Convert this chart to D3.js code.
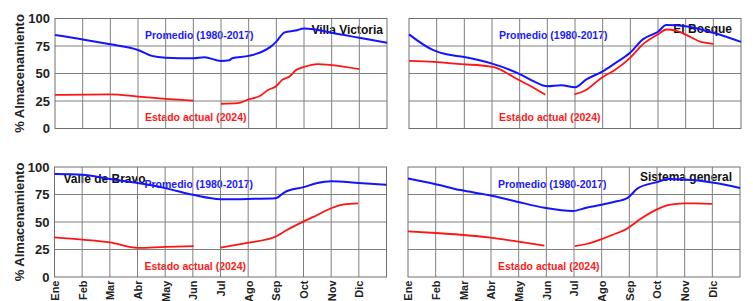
<!DOCTYPE html>
<html>
<head>
<meta charset="utf-8">
<script src="https://cdn.jsdelivr.net/npm/d3@7"></script>
<style>
  body { margin: 0; background: #fff; }
  text { font-family: "Liberation Sans", Arial, sans-serif; font-weight: bold; }
</style>
</head>
<body>
<div id="container"></div>
<script>
const meses = ["Ene", "Feb", "Mar", "Abr", "May", "Jun", "Jul", "Ago", "Sep", "Oct", "Nov", "Dic"];
const yTicks = [0, 25, 50, 75, 100];

// [mes (0 = 1 de enero), % almacenamiento]; null = sin dato
const promVillaVictoria = [[0,85],[1,81],[2,76.5],[3,71.4],[3.5,66],[4,64.4],[5,63.8],[5.4,64.7],[6,61.4],[6.3,62],[6.4,63.8],[7,66],[7.5,70],[7.8,74.4],[8,79],[8.3,87.4],[8.7,89],[9,91],[9.4,90],[10,87],[11,82.5],[12,78]];
const actualVillaVictoria = [[0,30.5],[2,31],[3,29],[4,27],[5,25.3],[5.5,null],[6,22.5],[6.6,23],[7,26.5],[7.4,29.5],[7.7,35],[8,38.6],[8.2,44],[8.5,47.7],[8.7,53],[9,56],[9.5,58.6],[10,57.7],[11,54]];

const promElBosque = [[0,85.6],[0.9,71],[1.35,67.5],[2,65],[2.55,62],[3,59],[4,49.5],[4.5,43],[5,38.4],[5.5,39.3],[6,37.5],[6.4,44.4],[7,52],[7.4,58.5],[8,69],[8.45,81],[9,88],[9.3,94],[10,93],[11,87],[12,78.7]];
const actualElBosque = [[0,61.5],[0.9,60.6],[1.9,58.5],[2.9,56.5],[3.1,55.5],[3.9,45],[4.5,37],[4.93,30.6],[5.5,null],[5.98,31],[6.4,35],[6.95,46],[7.4,52.5],[8,64.5],[8.45,76.5],[9,85.6],[9.3,90],[9.65,89],[9.98,85.6],[10.55,78.7],[11,77]];

const promValleBravo = [[0,93.6],[1,93],[2,89],[3,85.4],[4,80.8],[5,74.7],[6,70.7],[7,71],[8,71.6],[8.3,76.8],[9,81.7],[9.5,85.4],[10,87],[11,85.4],[12,83.8]];
const actualValleBravo = [[0,36],[1,34],[2,31.4],[3,26.5],[4,27.4],[5.03,28],[5.5,null],[6.01,26.8],[6.96,31],[7.98,36.6],[8.4,42.7],[8.99,50.3],[9.5,56.4],[10,62.5],[10.46,66],[10.97,67]];

const promSistema = [[0,89.5],[1,84.4],[1.9,79],[2.9,74.5],[3.94,68.5],[4.93,63],[5.95,60],[6.45,63],[6.95,65.5],[7.4,68],[7.94,72],[8.3,80.5],[8.96,86],[9.43,89],[9.97,88.6],[10.99,86],[12,81]];
const actualSistema = [[0,41.4],[1,40],[1.9,38.4],[2.9,36],[3.94,32.4],[4.93,28.5],[5.5,null],[6.03,28],[6.45,30],[6.95,34],[7.4,38.4],[7.94,44.4],[8.36,52],[8.96,61],[9.43,65.5],[9.97,67],[10.39,67],[10.99,66.4]];

const W = 753, H = 301;
const pw = 332, ph = 110;

const panels = [
  { nombre: "Villa Victoria", prom: promVillaVictoria, actual: actualVillaVictoria, x0: 55, y0: 18.5, ejeY: true, ejeX: false, nx: 328, ny: 15.5, anchor: "end" },
  { nombre: "El Bosque", prom: promElBosque, actual: actualElBosque, x0: 409, y0: 18.5, ejeY: false, ejeX: false, nx: 323, ny: 14.5, anchor: "end" },
  { nombre: "Valle de Bravo", prom: promValleBravo, actual: actualValleBravo, x0: 54.5, y0: 167, ejeY: true, ejeX: true, nx: 9, ny: 15.7, anchor: "start" },
  { nombre: "Sistema general", prom: promSistema, actual: actualSistema, x0: 408, y0: 167, ejeY: false, ejeX: true, nx: 324, ny: 13.5, anchor: "end" }
];

const svg = d3.select("#container").append("svg")
  .attr("width", W)
  .attr("height", H)
  .style("display", "block");

const x = d3.scaleLinear().domain([0, 12]).range([0, pw]);
const y = d3.scaleLinear().domain([0, 100]).range([ph, 0]);

const line = d3.line()
  .defined(d => d[1] != null)
  .x(d => x(d[0]))
  .y(d => y(d[1]))
  .curve(d3.curveMonotoneX);

panels.forEach(function(p) {
  const g = svg.append("g").attr("transform", `translate(${p.x0},${p.y0})`);

  // textos dentro del panel (van debajo de la rejilla y las curvas)
  g.append("text").attr("x", 90).attr("y", 20.5)
    .attr("fill", "#1a1aff").style("font-size", "10.5px")
    .text("Promedio (1980-2017)");
  g.append("text").attr("x", 90).attr("y", 102.5)
    .attr("fill", "#ff1a1a").style("font-size", "10.5px")
    .text("Estado actual (2024)");
  g.append("text").attr("x", p.nx).attr("y", p.ny)
    .attr("text-anchor", p.anchor)
    .attr("fill", "#111").style("font-size", "12px")
    .text(p.nombre);

  // rejilla
  g.selectAll(".gx").data(d3.range(1, 12)).enter().append("line")
    .attr("x1", d => x(d)).attr("x2", d => x(d))
    .attr("y1", 0).attr("y2", ph)
    .attr("stroke", "#808080").attr("stroke-width", 1);
  g.selectAll(".gy").data([25, 50, 75]).enter().append("line")
    .attr("x1", 0).attr("x2", pw)
    .attr("y1", d => y(d)).attr("y2", d => y(d))
    .attr("stroke", "#808080").attr("stroke-width", 1);
  g.append("rect").attr("width", pw).attr("height", ph)
    .attr("fill", "none").attr("stroke", "#707070").attr("stroke-width", 1);

  g.append("path").datum(p.prom)
    .attr("fill", "none").attr("stroke", "#1414ff").attr("stroke-width", 2)
    .attr("d", line);
  g.append("path").datum(p.actual)
    .attr("fill", "none").attr("stroke", "#ff1414").attr("stroke-width", 1.8)
    .attr("d", line);

  if (p.ejeY) {
    const ay = g.append("g").call(d3.axisLeft(y).tickValues(yTicks).tickSize(0).tickPadding(5));
    ay.select(".domain").remove();
    ay.selectAll("text").style("font-size", "13px").attr("fill", "#222");
    g.append("text")
      .attr("transform", `translate(-31,${ph / 2}) rotate(-90)`)
      .attr("text-anchor", "middle")
      .attr("fill", "#222").style("font-size", "13px")
      .text("% Almacenamiento");
  }

  if (p.ejeX) {
    const ax = g.append("g").attr("transform", `translate(0,${ph})`)
      .call(d3.axisBottom(x).tickValues(d3.range(12)).tickFormat(i => meses[i]).tickSize(0));
    ax.select(".domain").remove();
    ax.selectAll("text")
      .attr("transform", "rotate(-90)")
      .attr("text-anchor", "end")
      .attr("x", -3.5).attr("y", 0).attr("dy", "0.35em")
      .style("font-size", "11px").attr("fill", "#222");
  }
});
</script>
</body>
</html>
